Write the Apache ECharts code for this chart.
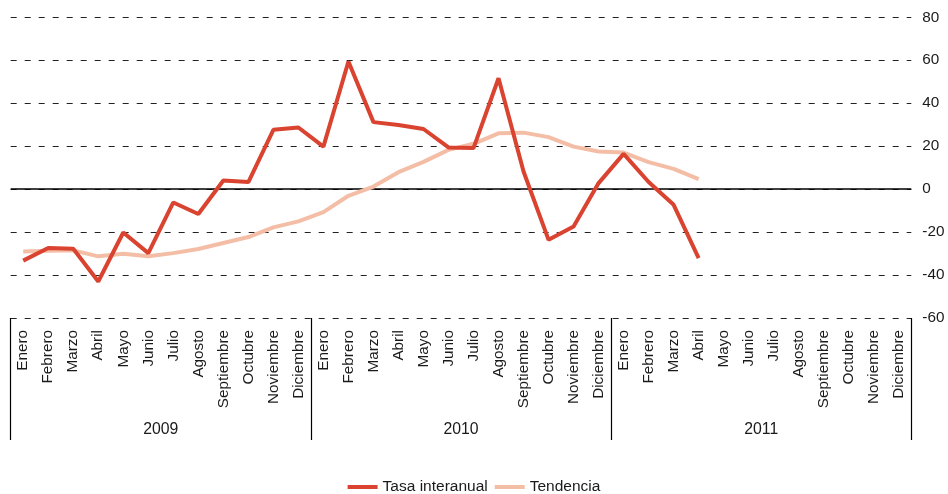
<!DOCTYPE html>
<html>
<head>
<meta charset="utf-8">
<script src="https://cdn.jsdelivr.net/npm/echarts@6/dist/echarts.min.js"></script>
<style>
html,body{margin:0;padding:0;background:#fff;}
#chart{width:948px;height:494px;}
</style>
</head>
<body>
<div id="chart"></div>
<script>
const months = ['Enero','Febrero','Marzo','Abril','Mayo','Junio','Julio','Agosto','Septiembre','Octubre','Noviembre','Diciembre'];
const years = ['2009','2010','2011'];
const categories = [].concat(months, months, months);
const tasaInteranual = [-33.3,-27.4,-27.8,-43.0,-20.2,-29.8,-6.2,-11.6,4.0,3.3,27.6,28.7,
  19.8,59.4,31.2,29.9,28.0,19.4,19.1,51.6,8.2,-23.6,-17.4,2.8,
  16.4,3.3,-7.3,-32.1];
const tendencia = [-29.0,-28.7,-28.5,-31.3,-30.1,-31.3,-29.8,-27.9,-25.1,-22.3,-17.8,-15.0,
  -10.7,-3.1,1.2,7.9,12.7,18.3,21.1,26.0,26.3,24.2,19.8,17.5,
  17.0,12.6,9.4,4.7];
const yTicks = {min:-60, max:80, interval:20};

const chart = echarts.init(document.getElementById('chart'));
const txt = '#1a1a1a';
const font = "'Liberation Sans', Arial, sans-serif";
chart.setOption({
  animation:false,
  backgroundColor:'#fff',
  textStyle:{fontFamily:font},
  grid:{left:10.7, right:36.7, top:17.3, bottom:176},
  legend:{
    data:['Tasa interanual','Tendencia'],
    top:474, left:'center',
    icon:'rect', itemWidth:30, itemHeight:4, itemGap:7,
    textStyle:{fontSize:15.5, color:txt, fontFamily:font}
  },
  xAxis:[{
    type:'category', data:categories, position:'bottom',
    boundaryGap:true,
    axisLine:{show:false}, axisTick:{show:false},
    axisLabel:{interval:0, rotate:90, margin:12, fontSize:15.3, color:txt, fontFamily:font}
  },{
    type:'category', data:years, position:'bottom',
    boundaryGap:true,
    axisLine:{show:false},
    axisTick:{show:true, length:122, lineStyle:{color:'#000', width:1.2}},
    axisLabel:{margin:104, fontSize:15.8, color:txt, fontFamily:font}
  }],
  yAxis:{
    type:'value', position:'right',
    min:yTicks.min, max:yTicks.max, interval:yTicks.interval,
    axisLine:{show:false}, axisTick:{show:false},
    axisLabel:{margin:11, fontSize:15.3, color:txt, fontFamily:font},
    splitLine:{show:true, lineStyle:{color:'#222', width:1, type:[6,8]}}
  },
  series:[{
    name:'Tendencia', type:'line', data:tendencia, xAxisIndex:0,
    symbol:'none', lineStyle:{color:'#f4bea6', width:4}, itemStyle:{color:'#f4bea6'},
    z:3
  },{
    name:'Tasa interanual', type:'line', data:tasaInteranual, xAxisIndex:0,
    symbol:'none', lineStyle:{color:'#d9432f', width:4}, itemStyle:{color:'#d9432f'},
    z:4,
    markLine:{silent:true, symbol:'none', label:{show:false},
      lineStyle:{color:'#000', width:1.5, type:'solid'},
      data:[{yAxis:0}], z:2}
  }]
});
</script>
</body>
</html>
